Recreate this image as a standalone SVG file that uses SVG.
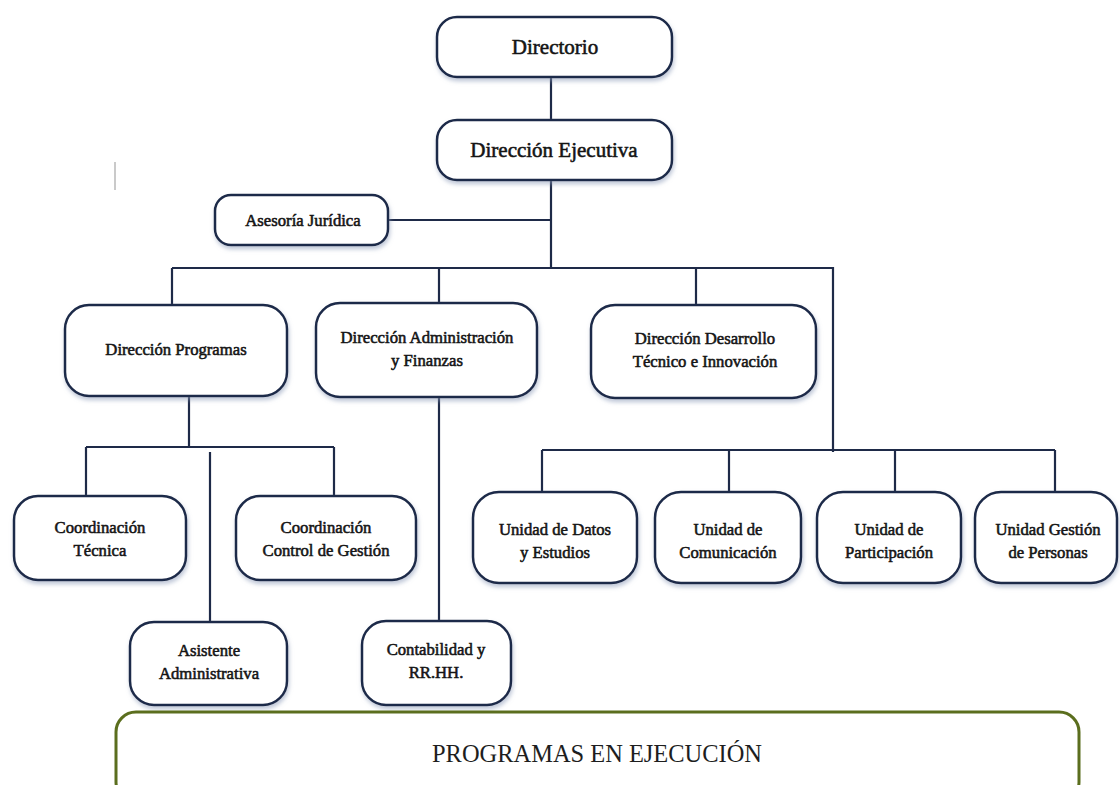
<svg xmlns="http://www.w3.org/2000/svg" width="1120" height="785" viewBox="0 0 1120 785" font-family="Liberation Serif, Times New Roman, serif">
<defs>
<filter id="sh" x="-10%" y="-10%" width="120%" height="130%">
<feDropShadow dx="1" dy="3" stdDeviation="2" flood-color="#8a9ab8" flood-opacity="0.55"/>
</filter>
<style>
.box{fill:#fff;stroke:#1e2a48;stroke-width:2.5;filter:url(#sh)}
.ln{fill:none;stroke:#1e2a48;stroke-width:2.2}
.t{font-size:16.7px;fill:#141414;stroke:#141414;stroke-width:0.55;text-anchor:middle}
.big{font-size:21px}
</style>
</defs>
<rect width="1120" height="785" fill="#fff"/>
<line x1="115" y1="162" x2="115" y2="190" stroke="#b8b8b8" stroke-width="1.5"/>
<g id="connectors">
<path class="ln" d="M551 77V120M551 180V268M388 220H551M172 268H833V452M172 268V305M439 268V305M696 268V305"/>
<path class="ln" d="M189 396V447M86 447H334M86 447V496M334 447V496M210 452V622M439 397V621"/>
<path class="ln" d="M542 450H1055M542 450V492M729 450V492M895 450V492M1055 450V492"/>
</g>
<g id="directorio"><rect class="box" x="437" y="17" width="235" height="60" rx="20"/><text class="t big" x="555" y="54">Directorio</text></g>
<g id="direccion-ejecutiva"><rect class="box" x="437" y="120" width="235" height="60" rx="20"/><text class="t big" x="554" y="157">Dirección Ejecutiva</text></g>
<g id="asesoria"><rect class="box" x="215" y="195" width="173" height="50" rx="16"/><text class="t" x="303" y="226">Asesoría Jurídica</text></g>
<g id="dir-programas"><rect class="box" x="65" y="305" width="222" height="91" rx="24"/><text class="t" x="176" y="355">Dirección Programas</text></g>
<g id="dir-admin"><rect class="box" x="316" y="303" width="221" height="94" rx="24"/><text class="t" x="427" y="343">Dirección Administración</text><text class="t" x="427" y="366">y Finanzas</text></g>
<g id="dir-desarrollo"><rect class="box" x="591" y="305" width="225" height="93" rx="24"/><text class="t" x="705" y="344">Dirección Desarrollo</text><text class="t" x="705" y="367">Técnico e Innovación</text></g>
<g id="coord-tecnica"><rect class="box" x="14" y="496" width="172" height="84" rx="24"/><text class="t" x="100" y="533">Coordinación</text><text class="t" x="100" y="556">Técnica</text></g>
<g id="coord-control"><rect class="box" x="236" y="496" width="180" height="84" rx="24"/><text class="t" x="326" y="533">Coordinación</text><text class="t" x="326" y="556">Control de Gestión</text></g>
<g id="asistente"><rect class="box" x="130" y="622" width="157" height="83" rx="24"/><text class="t" x="209" y="656">Asistente</text><text class="t" x="209" y="679">Administrativa</text></g>
<g id="contabilidad"><rect class="box" x="362" y="621" width="149" height="84" rx="24"/><text class="t" x="436" y="655">Contabilidad y</text><text class="t" x="436" y="678">RR.HH.</text></g>
<g id="unidad-datos"><rect class="box" x="473" y="492" width="164" height="91" rx="26"/><text class="t" x="555" y="535">Unidad de Datos</text><text class="t" x="555" y="558">y Estudios</text></g>
<g id="unidad-comunicacion"><rect class="box" x="655" y="492" width="146" height="91" rx="26"/><text class="t" x="728" y="535">Unidad de</text><text class="t" x="728" y="558">Comunicación</text></g>
<g id="unidad-participacion"><rect class="box" x="817" y="492" width="144" height="91" rx="26"/><text class="t" x="889" y="535">Unidad de</text><text class="t" x="889" y="558">Participación</text></g>
<g id="unidad-gestion"><rect class="box" x="975" y="492" width="142" height="91" rx="26"/><text class="t" x="1048" y="535">Unidad Gestión</text><text class="t" x="1048" y="558">de Personas</text></g>
<g id="programas"><rect x="116" y="712" width="963" height="90" rx="20" fill="#fff" stroke="#5b6e1e" stroke-width="3"/><text x="597" y="762" font-size="26" fill="#1e1e1e" text-anchor="middle" textLength="330" lengthAdjust="spacingAndGlyphs">PROGRAMAS EN EJECUCIÓN</text></g>
</svg>
